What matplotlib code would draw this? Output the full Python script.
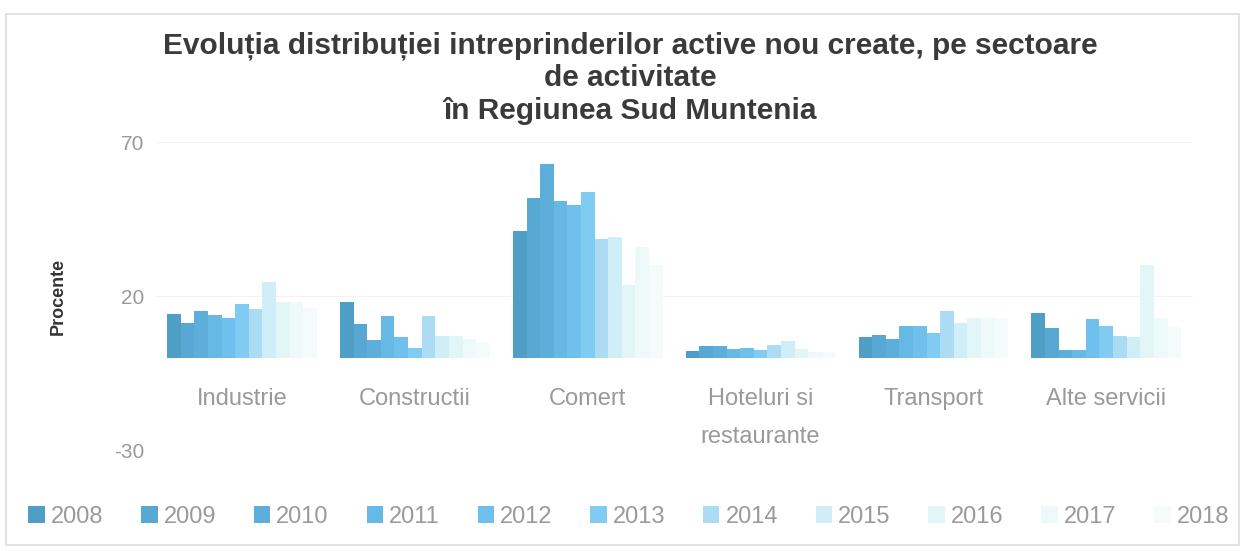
import numpy as np
import matplotlib
matplotlib.use("Agg")
import matplotlib.pyplot as plt
from matplotlib.patches import Rectangle

categories = ["Industrie", "Constructii", "Comert", "Hoteluri si\nrestaurante", "Transport", "Alte servicii"]
years = ["2008", "2009", "2010", "2011", "2012", "2013", "2014", "2015", "2016", "2017", "2018"]

# values per year (one list per year, across the six sectors)
v2008 = [14.1, 18.0, 41.3, 2.2, 6.6, 14.4]
v2009 = [11.2, 11.1, 51.9, 3.8, 7.3, 9.8]
v2010 = [15.3, 5.7, 62.8, 3.8, 6.0, 2.5]
v2011 = [13.9, 13.7, 50.8, 3.0, 10.4, 2.5]
v2012 = [12.9, 6.6, 49.7, 3.3, 10.4, 12.6]
v2013 = [17.3, 3.3, 53.9, 2.5, 8.0, 10.2]
v2014 = [15.8, 13.7, 38.6, 4.0, 15.3, 7.1]
v2015 = [24.6, 7.0, 39.3, 5.5, 11.2, 6.8]
v2016 = [18.0, 7.0, 23.5, 3.0, 13.0, 30.0]
v2017 = [18.0, 6.0, 36.0, 2.0, 13.0, 13.0]
v2018 = [16.0, 5.0, 30.0, 2.0, 13.0, 10.0]
series = [v2008, v2009, v2010, v2011, v2012, v2013, v2014, v2015, v2016, v2017, v2018]

colors = ["#4f9ec6", "#58a8d4", "#5eaedc", "#66b8e5", "#6fc0ec", "#80cbf1",
          "#abdcf4", "#d0eef8", "#e2f6f8", "#eef9f9", "#f5fbfb"]

yticks = [-30, 20, 70]

fig = plt.figure(figsize=(12.45, 5.51), dpi=100)
ax = fig.add_axes([0.125, 0.183, 0.833, 0.559])

n = len(series)
w = 0.866 / n
x = np.arange(len(categories))
for i, (vals, c, yr) in enumerate(zip(series, colors, years)):
    ax.bar(x - 0.433 + w * (i + 0.5), vals, width=w, color=c, label=yr, linewidth=0)

ax.set_ylim(-30, 70)
ax.set_xlim(-0.5, len(categories) - 0.5)
ax.set_yticks(yticks)
ax.set_yticklabels([str(t) for t in yticks], fontsize=15, color="#9a9a9a",
                   family=["Liberation Sans", "DejaVu Sans"])
ax.grid(axis="y", color="#f3f3f3", linewidth=0.8)
ax.set_axisbelow(True)
for s in ax.spines.values():
    s.set_visible(False)
ax.spines["bottom"].set_position(("data", 0))
ax.set_xticks(x)
ax.set_xticklabels(categories, fontsize=17, color="#9a9a9a",
                   family=["Liberation Sans", "DejaVu Sans"], linespacing=1.95)
ax.tick_params(axis="x", length=0, pad=22)
ax.tick_params(axis="y", length=0, pad=8)

ax.set_ylabel("Procente", fontsize=13, fontweight="bold", color="#333333",
              family=["Liberation Sans", "DejaVu Sans"], labelpad=34)

fig.text(0.506, 0.858, "Evoluția distribuției intreprinderilor active nou create, pe sectoare\nde activitate\nîn Regiunea Sud Muntenia",
         ha="center", va="center", fontsize=21.5, color="#3a3a3a", fontweight="semibold",
         family=["Liberation Sans", "DejaVu Sans"], linespacing=1.2)

leg = fig.legend(loc="center", bbox_to_anchor=(0.505, 0.062), ncol=11, frameon=False,
                 prop={"family": ["Liberation Sans", "DejaVu Sans"], "size": 17},
                 handlelength=0.7, handleheight=0.7, handletextpad=0.25, columnspacing=1.6)
for t in leg.get_texts():
    t.set_color("#9a9a9a")

fig.patches.append(Rectangle((0.005, 0.01), 0.99, 0.965, transform=fig.transFigure,
                             fill=False, edgecolor="#dddddd", linewidth=1.2))

fig.savefig("out.png", dpi=100, facecolor="white")
